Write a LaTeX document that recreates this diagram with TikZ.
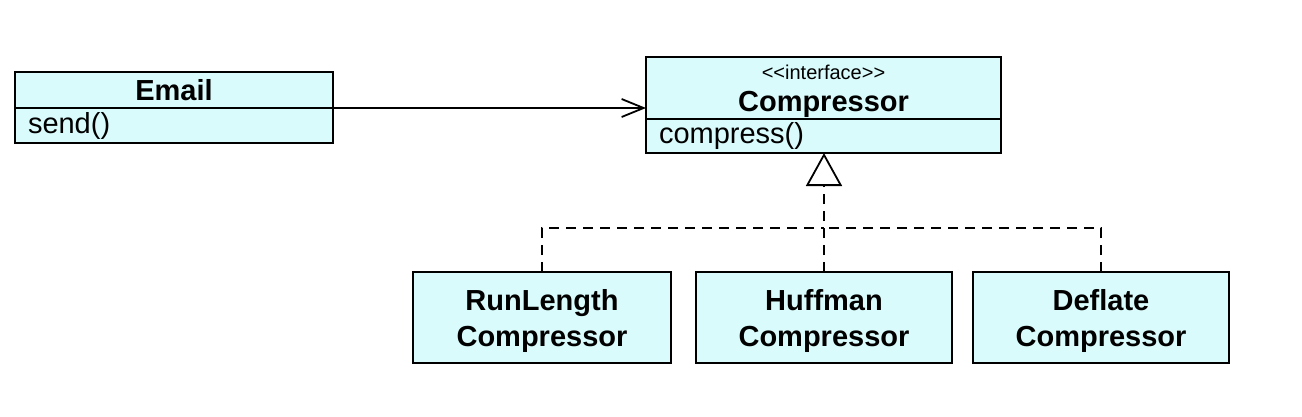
\documentclass[tikz,border=0pt]{standalone}
\usepackage{fontspec}
\setmainfont{Liberation Sans}
\usetikzlibrary{arrows.meta,positioning}
\definecolor{classfill}{RGB}{217,251,251}

\begin{document}
\begin{tikzpicture}[x=1pt, y=-1pt, line width=1.8pt,
		classbox/.style={draw, fill=classfill, inner sep=0pt, outer sep=0pt, text depth=0pt, font=\fontsize{29}{36}\selectfont\bfseries, align=center},
		classops/.style={draw, fill=classfill, inner xsep=13pt, inner ysep=0pt, outer sep=0pt, font=\fontsize{29}{35}\selectfont, align=left},
		usage/.style={-{Straight Barb[length=22pt, width=18pt]}},
		realize/.style={dash pattern=on 10pt off 7pt},
		realizetip/.style={realize, -{Triangle[open, length=33pt, width=36pt]}}]
		\useasboundingbox (0, 0) rectangle (1302, 416);
		\draw (174, 90) node [classbox, minimum width=318pt, minimum height=36pt] (email) {Email};
		\node [classops, text width=292pt, minimum height=35pt, below=0pt of email] (emailops) {send()};
		\draw (823.5, 88) node [classbox, minimum width=355pt, minimum height=62pt] (comp) {{\mdseries\fontsize{20}{22}\selectfont <\kern0pt<interface>\kern0pt>}\\[-4pt]Compressor};
		\node [classops, text width=329pt, minimum height=34pt, below=0pt of comp] (compops) {compress()};
		\draw (542, 317.5) node [classbox, minimum width=258pt, minimum height=91pt] (runlength) {RunLength\\Compressor};
		\draw (824, 317.5) node [classbox, minimum width=256pt, minimum height=91pt] (huffman) {Huffman\\Compressor};
		\draw (1101, 317.5) node [classbox, minimum width=256pt, minimum height=91pt] (deflate) {Deflate\\Compressor};
		\coordinate (join) at (824, 228);
		\draw [usage] (email.south east) -- (email.south east -| comp.west);
		\draw [realize] (runlength.north) |- (join);
		\draw [realize] (deflate.north) |- (join);
		\draw [realizetip] (huffman.north) -- (huffman.north |- compops.south);
	\end{tikzpicture}
\end{document}
